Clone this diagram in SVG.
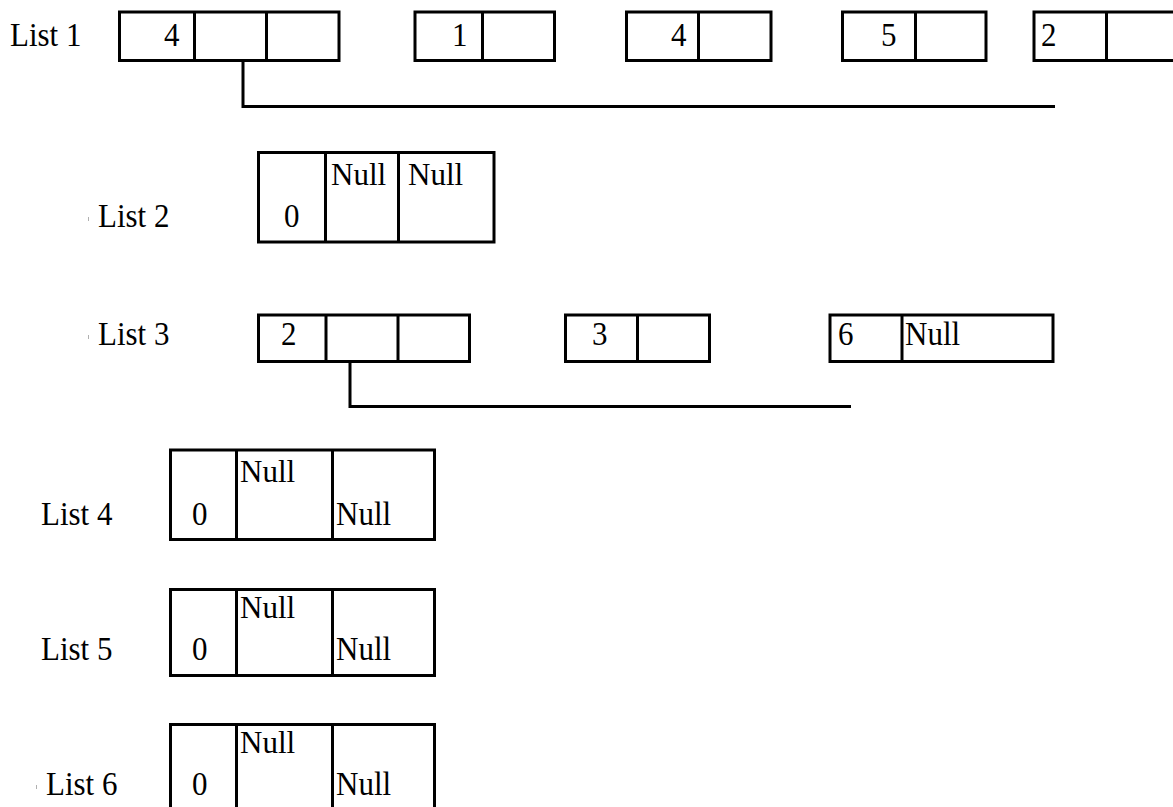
<svg xmlns="http://www.w3.org/2000/svg" width="1173" height="807" viewBox="0 0 1173 807">
  <style>
    .cell { fill: #ffffff; stroke: #000000; stroke-width: 3; }
    .div { stroke: #000000; stroke-width: 3; }
    .link { fill: none; stroke: #000000; stroke-width: 3; }
    text { font-family: 'Liberation Serif', 'Times New Roman', serif; font-size: 31px; fill: #000000; }
    .tick { fill: #b0b0b0; }
  </style>
  <rect width="1173" height="807" fill="#ffffff"/>

  <!-- pointers between records -->
  <g id="connectors">
    <polyline class="link" points="243,61 243,106.5 1055,106.5"/>
    <polyline class="link" points="350,362 350,406.5 851,406.5"/>
  </g>

  <!-- List 1 -->
  <g id="list1">
    <text transform="translate(10 46) scale(1 1.1)">List 1</text>
    <g id="l1-n1">
      <rect class="cell" x="119.5" y="12" width="219.5" height="48.5"/>
      <line class="div" x1="194.5" y1="12" x2="194.5" y2="60.5"/>
      <line class="div" x1="266.5" y1="12" x2="266.5" y2="60.5"/>
      <text transform="translate(164 46) scale(1 1.1)">4</text>
    </g>
    <g id="l1-n2">
      <rect class="cell" x="415" y="12" width="139.5" height="48.5"/>
      <line class="div" x1="482.5" y1="12" x2="482.5" y2="60.5"/>
      <text transform="translate(452 46) scale(1 1.1)">1</text>
    </g>
    <g id="l1-n3">
      <rect class="cell" x="626.5" y="12" width="144.5" height="48.5"/>
      <line class="div" x1="698.5" y1="12" x2="698.5" y2="60.5"/>
      <text transform="translate(671 46) scale(1 1.1)">4</text>
    </g>
    <g id="l1-n4">
      <rect class="cell" x="842.5" y="12" width="143.5" height="48.5"/>
      <line class="div" x1="915.5" y1="12" x2="915.5" y2="60.5"/>
      <text transform="translate(881 46) scale(1 1.1)">5</text>
    </g>
    <g id="l1-n5">
      <rect class="cell" x="1034" y="12" width="160" height="48.5"/>
      <line class="div" x1="1106.5" y1="12" x2="1106.5" y2="60.5"/>
      <text transform="translate(1041 46) scale(1 1.1)">2</text>
    </g>
  </g>

  <!-- List 2 -->
  <g id="list2">
    <rect class="tick" x="88" y="217" width="1" height="4"/>
    <text transform="translate(98 227) scale(1 1.1)">List 2</text>
    <g id="l2-n1">
      <rect class="cell" x="258.5" y="152.5" width="235.5" height="89.5"/>
      <line class="div" x1="325.5" y1="152.5" x2="325.5" y2="242"/>
      <line class="div" x1="398.5" y1="152.5" x2="398.5" y2="242"/>
      <text transform="translate(284 227) scale(1 1.1)">0</text>
      <text transform="translate(331 185)">Null</text>
      <text transform="translate(408 185)">Null</text>
    </g>
  </g>

  <!-- List 3 -->
  <g id="list3">
    <rect class="tick" x="88" y="335" width="1" height="4"/>
    <text transform="translate(98 345) scale(1 1.1)">List 3</text>
    <g id="l3-n1">
      <rect class="cell" x="258.5" y="315" width="211" height="46.5"/>
      <line class="div" x1="326" y1="315" x2="326" y2="361.5"/>
      <line class="div" x1="398" y1="315" x2="398" y2="361.5"/>
      <text transform="translate(281 345) scale(1 1.1)">2</text>
    </g>
    <g id="l3-n2">
      <rect class="cell" x="565.5" y="315" width="144" height="46.5"/>
      <line class="div" x1="637.5" y1="315" x2="637.5" y2="361.5"/>
      <text transform="translate(592 345) scale(1 1.1)">3</text>
    </g>
    <g id="l3-n3">
      <rect class="cell" x="830" y="315" width="223" height="46.5"/>
      <line class="div" x1="902" y1="315" x2="902" y2="361.5"/>
      <text transform="translate(838 345) scale(1 1.1)">6</text>
      <text transform="translate(905 345) scale(1 1.1)">Null</text>
    </g>
  </g>

  <!-- List 4 -->
  <g id="list4">
    <text transform="translate(41 525) scale(1 1.1)">List 4</text>
    <g id="l4-n1">
      <rect class="cell" x="170.5" y="450" width="264" height="89.5"/>
      <line class="div" x1="236.5" y1="450" x2="236.5" y2="539.5"/>
      <line class="div" x1="332.5" y1="450" x2="332.5" y2="539.5"/>
      <text transform="translate(192 525) scale(1 1.1)">0</text>
      <text transform="translate(240 481.5)">Null</text>
      <text transform="translate(336 525) scale(1 1.1)">Null</text>
    </g>
  </g>

  <!-- List 5 -->
  <g id="list5">
    <text transform="translate(41 660) scale(1 1.1)">List 5</text>
    <g id="l5-n1">
      <rect class="cell" x="170.5" y="589.5" width="264" height="86"/>
      <line class="div" x1="236.5" y1="589.5" x2="236.5" y2="675.5"/>
      <line class="div" x1="332.5" y1="589.5" x2="332.5" y2="675.5"/>
      <text transform="translate(192 660) scale(1 1.1)">0</text>
      <text transform="translate(240 618)">Null</text>
      <text transform="translate(336 660) scale(1 1.1)">Null</text>
    </g>
  </g>

  <!-- List 6 -->
  <g id="list6">
    <rect class="tick" x="36" y="785" width="1" height="4"/>
    <text transform="translate(46 795) scale(1 1.1)">List 6</text>
    <g id="l6-n1">
      <rect class="cell" x="170.5" y="724.5" width="264" height="90"/>
      <line class="div" x1="236.5" y1="724.5" x2="236.5" y2="814.5"/>
      <line class="div" x1="332.5" y1="724.5" x2="332.5" y2="814.5"/>
      <text transform="translate(192 795) scale(1 1.1)">0</text>
      <text transform="translate(240 753)">Null</text>
      <text transform="translate(336 795) scale(1 1.1)">Null</text>
    </g>
  </g>
</svg>
